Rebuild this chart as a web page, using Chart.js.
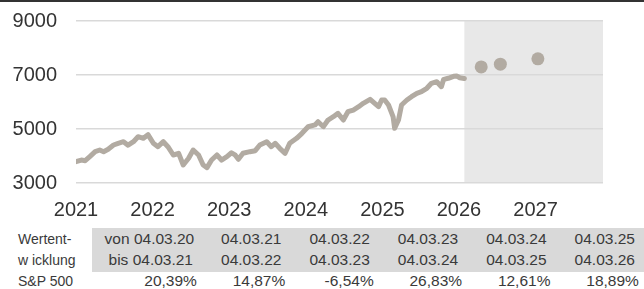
<!DOCTYPE html>
<html>
<head>
<meta charset="utf-8">
<script src="https://cdn.jsdelivr.net/npm/chart.js@4"></script>
<style>
  html, body { margin: 0; padding: 0; background: #fff; }
  #wrap { position: relative; width: 644px; height: 289px; overflow: hidden;
          font-family: "Liberation Sans", Arial, sans-serif; color: #3a3a3a; }
  #topbar { position: absolute; left: 0; top: 0; width: 644px; height: 2px; background: #333; }
  #chartBox { position: absolute; left: 0; top: 0; width: 644px; height: 222px; }
  .lbl { position: absolute; left: 18px; font-size: 14px; white-space: nowrap; }
  #grayBox { position: absolute; left: 92px; top: 228px; width: 552px; height: 44px; background: #d9d9d9; }
  .row { position: absolute; left: 104.6px; display: flex; font-size: 15.5px; white-space: nowrap; }
  .row span { width: 88.4px; text-align: right; }
</style>
</head>
<body>
<div id="wrap">
  <div id="chartBox"><canvas id="spChart"></canvas></div>
  <div id="topbar"></div>
  <div id="grayBox"></div>
  <div class="lbl" style="top:231px">Wertent-</div>
  <div class="lbl" style="top:252px">w icklung</div>
  <div class="lbl" style="top:273px">S&amp;P 500</div>
  <div class="row" id="rowFrom" style="top:230px"></div>
  <div class="row" id="rowTo" style="top:251px"></div>
  <div class="row" id="rowRet" style="top:272px; left:108.5px"></div>
</div>
<script>
// S&P 500 history (x = position in years on the chart axis)
const years = [
  2021.00, 2021.07, 2021.12, 2021.18, 2021.25, 2021.31, 2021.36, 2021.42, 2021.49, 2021.55,
  2021.62, 2021.68, 2021.75, 2021.81, 2021.88, 2021.94, 2021.97, 2022.01, 2022.07, 2022.14,
  2022.20, 2022.27, 2022.34, 2022.40, 2022.47, 2022.53, 2022.60, 2022.66, 2022.71, 2022.77,
  2022.84, 2022.90, 2022.97, 2023.03, 2023.08, 2023.12, 2023.18, 2023.27, 2023.34, 2023.40,
  2023.49, 2023.55, 2023.60, 2023.66, 2023.73, 2023.79, 2023.88, 2023.95, 2024.03, 2024.12,
  2024.16, 2024.23, 2024.29, 2024.36, 2024.42, 2024.49, 2024.55, 2024.62, 2024.69, 2024.75,
  2024.84, 2024.90, 2024.95, 2024.99, 2025.03, 2025.08, 2025.12, 2025.14, 2025.16, 2025.21,
  2025.25, 2025.32, 2025.38, 2025.45, 2025.51, 2025.58, 2025.64, 2025.71, 2025.77, 2025.80,
  2025.86, 2025.93, 2025.97, 2026.01, 2026.07
];
const sp500 = [
  3790, 3850, 3826, 3975, 4160, 4222, 4160, 4250, 4407, 4470,
  4530, 4400, 4530, 4715, 4655, 4790, 4655, 4470, 4345, 4530,
  4345, 4037, 4100, 3667, 3915, 4222, 4037, 3667, 3570, 3850,
  4037, 3850, 3975, 4120, 4030, 3880, 4100, 4160, 4197, 4407,
  4530, 4345, 4470, 4285, 4100, 4470, 4655, 4840, 5085, 5150,
  5270, 5085, 5333, 5455, 5581, 5333, 5640, 5703, 5826, 5950,
  6100, 5950, 5826, 6074, 6074, 5890, 5600, 5450, 5025, 5333,
  5890, 6074, 6196, 6322, 6381, 6507, 6692, 6752, 6567, 6840,
  6878, 6950, 6960, 6900, 6870
];

// forecasts
const forecastYears = [2026.29, 2026.54, 2027.03];
const forecastValues = [7300, 7400, 7600];
const shadeStart = 2026.07;
const axisEnd = 2027.88;

// table below the chart
const fromDates = ['04.03.20', '04.03.21', '04.03.22', '04.03.23', '04.03.24', '04.03.25'];
const toDates = ['04.03.21', '04.03.22', '04.03.23', '04.03.24', '04.03.25', '04.03.26'];
const returns = ['20,39%', '14,87%', '-6,54%', '26,83%', '12,61%', '18,89%'];

function fillRow(id, values, prefix) {
  const row = document.getElementById(id);
  values.forEach((v, i) => {
    const s = document.createElement('span');
    s.textContent = (i === 0 && prefix ? prefix + ' ' : '') + v;
    row.appendChild(s);
  });
}
fillRow('rowFrom', fromDates, 'von');
fillRow('rowTo', toDates, 'bis');
fillRow('rowRet', returns);

const lineColor = '#b2aba2';

const forecastShade = {
  id: 'forecastShade',
  beforeDraw(chart) {
    const { ctx, chartArea, scales } = chart;
    const left = scales.x.getPixelForValue(shadeStart);
    ctx.save();
    ctx.fillStyle = '#e8e8e8';
    ctx.fillRect(left, chartArea.top, chartArea.right - left, chartArea.bottom - chartArea.top);
    ctx.restore();
  },
};

Chart.defaults.font.family = '"Liberation Sans", Arial, sans-serif';
Chart.defaults.color = '#333';

new Chart(document.getElementById('spChart'), {
  type: 'line',
  data: {
    datasets: [
      {
        label: 'S&P 500',
        data: years.map((y, i) => ({ x: y, y: sp500[i] })),
        borderColor: lineColor,
        borderWidth: 5,
        borderJoinStyle: 'round',
        borderCapStyle: 'round',
        pointRadius: 0,
        tension: 0,
      },
      {
        label: 'Prognose',
        data: forecastYears.map((y, i) => ({ x: y, y: forecastValues[i] })),
        showLine: false,
        pointRadius: 6.5,
        pointBackgroundColor: lineColor,
        pointBorderWidth: 0,
      },
    ],
  },
  options: {
    responsive: true,
    maintainAspectRatio: false,
    animation: false,
    layout: { padding: { top: 21, right: 41, left: 10, bottom: 0 } },
    plugins: { legend: { display: false }, tooltip: { enabled: false } },
    scales: {
      x: {
        type: 'linear',
        min: 2021,
        max: axisEnd,
        grid: { display: false, drawTicks: false },
        border: { display: false },
        ticks: {
          stepSize: 1,
          includeBounds: false,
          padding: 15,
          font: { size: 20 },
          callback: (v) => (Number.isInteger(v) ? String(v) : ''),
        },
        afterFit: (scale) => { scale.height = 39; },
      },
      y: {
        min: 3000,
        max: 9000,
        grid: { color: '#d9d9d9', lineWidth: 1.5, drawTicks: false },
        border: { display: false },
        ticks: {
          stepSize: 2000,
          padding: 19,
          font: { size: 20 },
          callback: (v) => String(v),
        },
        afterFit: (scale) => {
          scale.width = 66;
          // tick padding would otherwise push the plot top down
          scale.paddingTop = 0;
          scale.paddingBottom = 0;
        },
      },
    },
  },
  plugins: [forecastShade],
});
</script>
</body>
</html>
